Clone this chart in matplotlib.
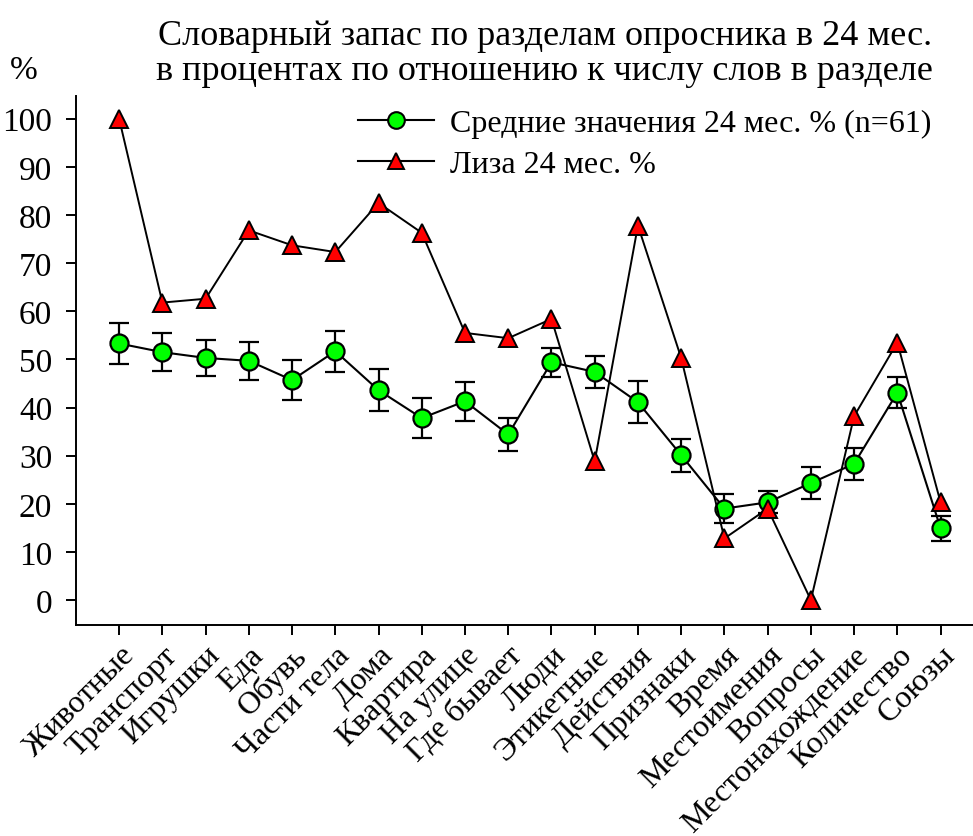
import matplotlib
matplotlib.use("Agg")
import matplotlib.pyplot as plt
from matplotlib.lines import Line2D

plt.rcParams['font.family'] = ['Liberation Serif', 'DejaVu Serif']

sections = ['Животные', 'Транспорт', 'Игрушки', 'Еда', 'Обувь', 'Части тела',
            'Дома', 'Квартира', 'На улице', 'Где бывает', 'Люди', 'Этикетные',
            'Действия', 'Признаки', 'Время', 'Местоимения', 'Вопросы',
            'Местонахождение', 'Количество', 'Союзы']

# средние значения по группе (n=61) и ошибка
mean_24 = [53.3, 51.5, 50.3, 49.7, 45.7, 51.7, 43.6, 37.8, 41.3, 34.4,
           49.4, 47.4, 41.1, 30.1, 19.0, 20.3, 24.3, 28.3, 43.1, 14.9]
mean_err = [4.2, 3.9, 3.8, 4.0, 4.2, 4.3, 4.4, 4.1, 4.0, 3.5,
            3.0, 3.3, 4.4, 3.4, 3.0, 2.3, 3.3, 3.3, 3.2, 2.6]

# Лиза
liza_24 = [100, 61.8, 62.6, 76.8, 73.7, 72.3, 82.5, 76.3, 55.5, 54.4,
           58.4, 28.8, 77.8, 50.3, 12.8, 19.0, 0, 38.2, 53.5, 20.3]

x = list(range(len(sections)))

fig = plt.figure(figsize=(9.73, 8.37), dpi=100)
ax = fig.add_axes([0.078, 0.252, 0.922, 0.632])

ax.errorbar(x, mean_24, yerr=mean_err, fmt='-o', color='black', lw=1.5,
            elinewidth=1.6, capsize=7, capthick=1.6,
            marker='o', markersize=13, markerfacecolor='#00ff00',
            markeredgecolor='black', markeredgewidth=1.6, zorder=2)
ax.plot(x, liza_24, '-^', color='black', lw=1.4, markersize=12.5,
        markerfacecolor='#ff0000', markeredgecolor='black', markeredgewidth=1.4,
        zorder=3)

ax.set_xlim(-1, 19.75)
ax.set_ylim(-5.2, 104.7)
ax.set_yticks(range(0, 101, 10))
ax.set_xticks(x)
ax.set_xticklabels(sections, rotation=45, ha='right', va='top',
                   rotation_mode='anchor')
ax.tick_params(axis='both', direction='out', length=7, width=1.4)
ax.tick_params(axis='y', labelsize=24, pad=10)
ax.tick_params(axis='x', labelsize=23, pad=4)

for side in ['top', 'right']:
    ax.spines[side].set_visible(False)
for side in ['left', 'bottom']:
    ax.spines[side].set_linewidth(1.4)

handles = [
    Line2D([], [], color='black', lw=1.5, marker='o', markersize=12,
           markerfacecolor='#00ff00', markeredgecolor='black', markeredgewidth=1.5),
    Line2D([], [], color='black', lw=1.5, marker='^', markersize=12,
           markerfacecolor='#ff0000', markeredgecolor='black', markeredgewidth=1.4),
]
labels = ['Средние значения 24 мес. % (n=61)', 'Лиза 24 мес. %']
ax.legend(handles, labels, loc='upper left', bbox_to_anchor=(0.30, 1.0),
          frameon=False, fontsize=23, handlelength=2.4, handletextpad=0.5,
          labelspacing=0.35, borderaxespad=0)

fig.text(0.56, 0.956, 'Словарный запас по разделам опросника в 24 мес.',
         ha='center', va='center', fontsize=26)
fig.text(0.56, 0.915, 'в процентах по отношению к числу слов в разделе',
         ha='center', va='center', fontsize=26)
fig.text(0.024, 0.916, '%', ha='center', va='center', fontsize=24)

fig.savefig('out.png', dpi=100)
